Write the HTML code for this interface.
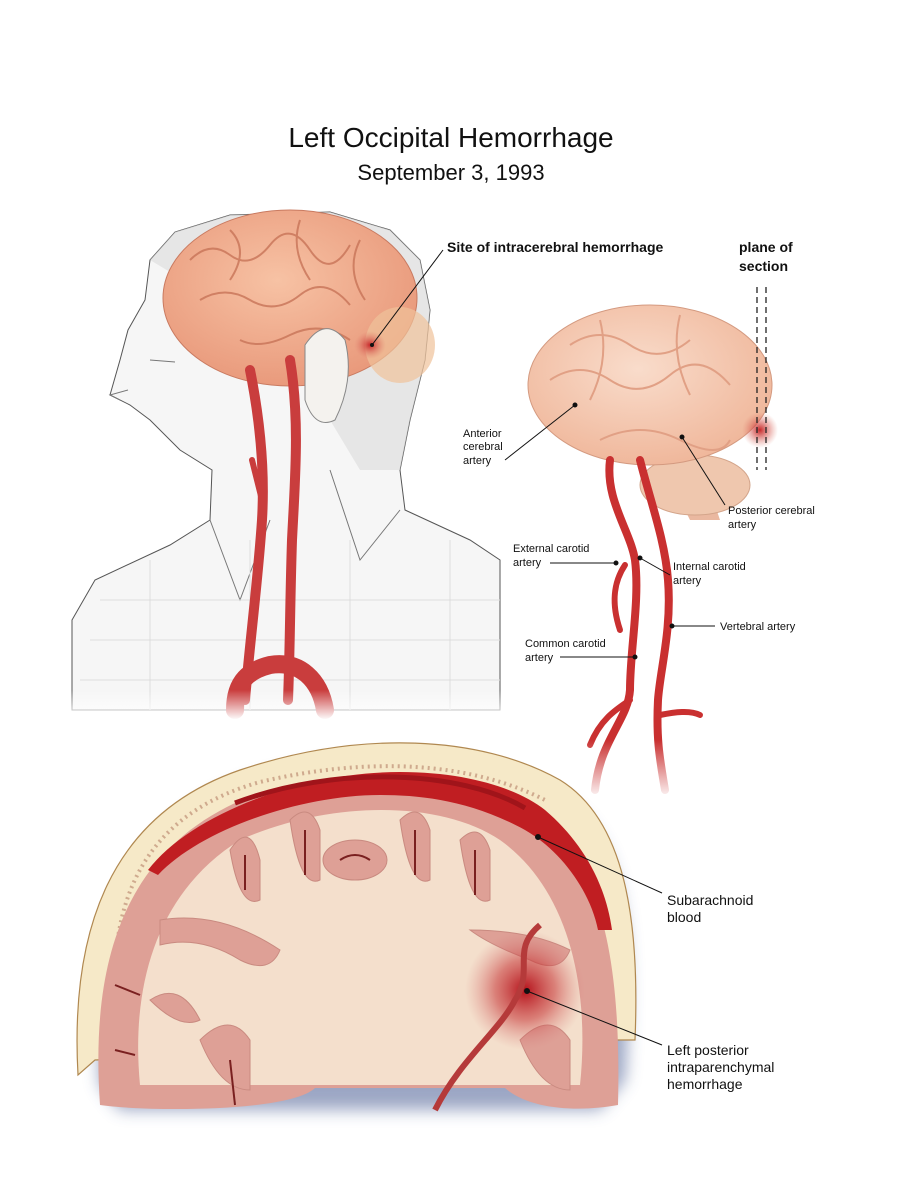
<!DOCTYPE html>
<html><head><meta charset="utf-8"><style>
html,body{margin:0;padding:0;background:#fff}
svg{display:block}
text{font-family:"Liberation Sans",Arial,sans-serif;fill:#111}
</style></head><body>
<svg width="900" height="1200" viewBox="0 0 900 1200" xmlns="http://www.w3.org/2000/svg">
<defs>
<radialGradient id="brainG" cx="45%" cy="40%" r="60%"><stop offset="0" stop-color="#f7c2a4"/><stop offset="1" stop-color="#e99a7c"/></radialGradient>
<radialGradient id="brain2" cx="45%" cy="40%" r="60%"><stop offset="0" stop-color="#f9dccb"/><stop offset="1" stop-color="#f0b89c"/></radialGradient>
<radialGradient id="hem" cx="50%" cy="50%" r="50%"><stop offset="0" stop-color="#b5121b"/><stop offset="0.5" stop-color="#c94040" stop-opacity="0.6"/><stop offset="1" stop-color="#d88080" stop-opacity="0"/></radialGradient>
<radialGradient id="hemS" cx="50%" cy="50%" r="50%"><stop offset="0" stop-color="#c8282a"/><stop offset="1" stop-color="#e08070" stop-opacity="0"/></radialGradient>
<linearGradient id="wfade" x1="0" y1="0" x2="0" y2="1"><stop offset="0" stop-color="#fff" stop-opacity="0"/><stop offset="1" stop-color="#fff" stop-opacity="1"/></linearGradient>
<filter id="blur"><feGaussianBlur stdDeviation="8"/></filter>
</defs>
<rect width="900" height="1200" fill="#fff"/>
<text x="451" y="147" font-size="28" text-anchor="middle">Left Occipital Hemorrhage</text>
<text x="451" y="180" font-size="22" text-anchor="middle">September 3, 1993</text>

<!-- head sketch -->
<path d="M72,620 L95,580 L170,545 L210,520 L212,470 L180,450 L150,420 L130,405 L110,395 L120,360 L128,330 L145,300 L150,260 L175,232 L230,215 L330,212 L390,230 L420,260 L430,310 L425,360 L410,420 L400,470 L405,510 L470,540 L500,560 L500,710 L72,710 Z" fill="#f6f6f6" stroke="#555"/>
<path d="M150,260 L175,232 L230,215 L330,212 L390,230 L420,260 L430,310 L425,360 L410,420 L400,470 L360,470 L330,420 L300,350 Z" fill="#dcdcdc" opacity="0.6"/>
<g stroke="#777" fill="none" stroke-width="1">
<path d="M210,520 L240,600 L270,520"/><path d="M330,470 L360,560 L400,510"/>
<path d="M120,400 L110,395 L128,390"/><path d="M150,360 L175,362"/>
<path d="M100,600 L500,600 M90,640 L500,640 M80,680 L500,680 M150,560 L150,710 M250,540 L250,710 M350,540 L350,710 M450,540 L450,710" stroke="#ddd"/>
</g>
<!-- left brain -->
<ellipse cx="290" cy="298" rx="127" ry="88" fill="url(#brainG)" stroke="#c97a60"/>
<ellipse cx="400" cy="345" rx="35" ry="38" fill="#f0c29a" opacity="0.7"/>
<ellipse cx="370" cy="345" rx="16" ry="14" fill="url(#hemS)"/>
<g stroke="#c87458" stroke-width="2" fill="none" opacity="0.8">
<path d="M190,260 q20,-20 40,-5 t40,-10 t40,5 t40,-5"/><path d="M200,300 q25,-15 50,0 t50,-5 t50,10"/>
<path d="M240,340 q20,10 50,-5 t60,5"/><path d="M230,230 q20,20 0,50"/><path d="M300,220 q-10,30 10,60"/><path d="M360,240 q-15,30 5,60"/>
</g>
<path d="M305,345 q20,-30 40,-5 q10,40 -10,80 q-20,10 -30,-20 z" fill="#f4f2ee" stroke="#888"/>
<g fill="none" stroke="#c93d3d" stroke-linecap="round">
<path d="M250,370 C260,420 265,470 262,520 C258,580 250,640 245,700" stroke-width="10"/>
<path d="M290,360 C300,420 295,480 292,540 C290,600 290,650 288,700" stroke-width="10"/>
<path d="M262,500 L252,460" stroke-width="6"/>
<path d="M235,710 C235,680 250,670 270,665 C300,660 320,680 325,710" stroke-width="18"/>
</g>
<rect x="60" y="690" width="450" height="30" fill="url(#wfade)"/>
<text x="447" y="252" font-size="14" font-weight="bold">Site of intracerebral hemorrhage</text>
<line x1="443" y1="250" x2="372" y2="345" stroke="#111"/>
<circle cx="372" cy="345" r="2" fill="#111"/>

<!-- right brain -->
<path d="M665,470 C690,490 700,500 715,505 L720,520 L690,520 Z" fill="#eab8a0"/>
<ellipse cx="695" cy="485" rx="55" ry="30" fill="#efc7ae" stroke="#d3a48a"/>
<ellipse cx="650" cy="385" rx="122" ry="80" fill="url(#brain2)" stroke="#d49a80"/>
<ellipse cx="760" cy="430" rx="18" ry="18" fill="url(#hemS)"/>
<g stroke="#e1a085" stroke-width="2" fill="none">
<path d="M550,380 q30,-20 60,0 t60,-5 t60,10"/><path d="M570,345 q30,-20 60,0 t60,-5"/><path d="M600,440 q40,-20 80,0 t50,0"/><path d="M600,320 q10,40 -10,80"/><path d="M680,315 q-10,40 10,80"/>
</g>
<g stroke="#222" stroke-dasharray="6,4" stroke-width="1.3">
<line x1="757" y1="287" x2="757" y2="470"/><line x1="766" y1="287" x2="766" y2="470"/>
</g>
<text x="739" y="252" font-size="14" font-weight="bold">plane of</text>
<text x="739" y="271" font-size="14" font-weight="bold">section</text>
<g fill="none" stroke="#c93030" stroke-linecap="round" stroke-width="8">
<path d="M610,460 C605,500 630,530 635,560 C640,600 630,650 630,690 C628,720 600,740 595,790"/>
<path d="M640,460 C650,500 665,540 668,580 C672,630 660,670 658,700 C656,740 660,760 665,790"/>
<path d="M625,565 C615,580 610,600 620,630" stroke-width="6"/>
<path d="M630,700 C615,710 600,720 590,745" stroke-width="6"/>
<path d="M660,715 C675,712 690,710 700,715" stroke-width="6"/>
</g>
<rect x="560" y="740" width="160" height="60" fill="url(#wfade)"/>
<g font-size="11">
<text x="463" y="437">Anterior</text><text x="463" y="450">cerebral</text><text x="463" y="464">artery</text>
<text x="728" y="514">Posterior cerebral</text><text x="728" y="528">artery</text>
<text x="513" y="552">External carotid</text><text x="513" y="566">artery</text>
<text x="673" y="570">Internal carotid</text><text x="673" y="584">artery</text>
<text x="720" y="630">Vertebral artery</text>
<text x="525" y="647">Common carotid</text><text x="525" y="661">artery</text>
</g>
<g stroke="#111" fill="#111">
<line x1="505" y1="460" x2="575" y2="405"/><circle cx="575" cy="405" r="2"/>
<line x1="725" y1="505" x2="682" y2="437"/><circle cx="682" cy="437" r="2"/>
<line x1="550" y1="563" x2="616" y2="563"/><circle cx="616" cy="563" r="2"/>
<line x1="670" y1="575" x2="640" y2="558"/><circle cx="640" cy="558" r="2"/>
<line x1="715" y1="626" x2="672" y2="626"/><circle cx="672" cy="626" r="2"/>
<line x1="560" y1="657" x2="635" y2="657"/><circle cx="635" cy="657" r="2"/>
</g>

<!-- cross-section -->
<path d="M100,1085 C90,950 120,830 240,785 C360,745 480,755 560,800 C625,840 635,930 625,1080 L600,1110 L120,1110 Z" fill="#3a4f8a" filter="url(#blur)" opacity="0.5"/>
<path d="M78,1075 C70,930 110,815 240,770 C360,730 480,735 560,780 C625,820 640,920 635,1040 L615,1040 L95,1060 Z" fill="#f6e9c8" stroke="#b08850" stroke-width="1.2"/>
<path d="M115,1000 C110,880 160,810 260,782 C370,756 470,762 545,800" fill="none" stroke="#c59a80" stroke-width="4" stroke-dasharray="2,4" opacity="0.8"/>
<!-- brain -->
<path d="M100,1105 C90,960 125,855 235,803 C335,765 460,770 525,808 C595,850 622,940 618,1105 C580,1112 530,1110 505,1088 L315,1088 C290,1112 150,1112 100,1105 Z" fill="#dea096"/>
<!-- subarachnoid red -->
<path d="M148,870 C190,815 300,772 400,772 C470,772 520,790 545,810 C580,840 605,880 612,930 L598,930 C590,890 560,850 525,830 C470,800 420,795 380,795 C300,795 200,830 158,875 Z" fill="#c01e22"/>
<path d="M235,803 C335,765 460,770 525,808" fill="none" stroke="#a0141a" stroke-width="5"/>
<path d="M140,1085 C130,980 160,890 240,840 C330,800 440,800 500,840 C570,890 590,990 580,1085 L330,1085 Z" fill="#f4dfcc"/>
<g fill="#dea096" stroke="#c98a80" stroke-width="1">
<path d="M160,920 q60,-10 120,30 q-10,25 -40,10 q-40,-25 -80,-15 z"/>
<path d="M150,1000 q30,-20 50,20 q-20,10 -50,-20 z"/>
<path d="M230,850 q20,-30 30,10 l0,40 q-20,10 -30,-50 z"/>
<path d="M290,820 q20,-20 30,10 l0,50 q-20,10 -30,-60 z"/>
<path d="M400,820 q20,-20 30,10 l0,50 q-20,10 -30,-60 z"/>
<path d="M460,840 q20,-20 30,10 l0,50 q-20,10 -30,-60 z"/>
<ellipse cx="355" cy="860" rx="32" ry="20"/>
<path d="M470,930 q60,0 100,20 q-10,25 -40,10 q-40,-15 -60,-30 z"/>
<path d="M200,1040 q30,-30 50,0 l0,50 q-30,0 -50,-50 z"/>
<path d="M520,1040 q30,-30 50,0 l0,50 q-30,0 -50,-50 z"/>
</g>
<g stroke="#7a2020" stroke-width="2" fill="none">
<path d="M245,855 l0,35"/><path d="M305,830 l0,45"/><path d="M415,830 l0,45"/><path d="M475,850 l0,45"/><path d="M340,860 q15,-10 30,0"/>
<path d="M115,985 l25,10"/><path d="M115,1050 l20,5"/><path d="M230,1060 l5,45"/>
</g>
<ellipse cx="525" cy="990" rx="60" ry="60" fill="url(#hem)"/>
<path d="M540,925 C510,950 535,970 515,1000 C500,1030 460,1060 435,1110" fill="none" stroke="#b53a3a" stroke-width="6"/>
<g font-size="14">
<text x="667" y="905">Subarachnoid</text><text x="667" y="922">blood</text>
<text x="667" y="1055">Left posterior</text><text x="667" y="1072">intraparenchymal</text><text x="667" y="1089">hemorrhage</text>
</g>
<g stroke="#111" fill="#111">
<line x1="662" y1="893" x2="538" y2="837"/><circle cx="538" cy="837" r="2.5"/>
<line x1="662" y1="1045" x2="527" y2="991"/><circle cx="527" cy="991" r="2.5"/>
</g>
</svg>
</body></html>
